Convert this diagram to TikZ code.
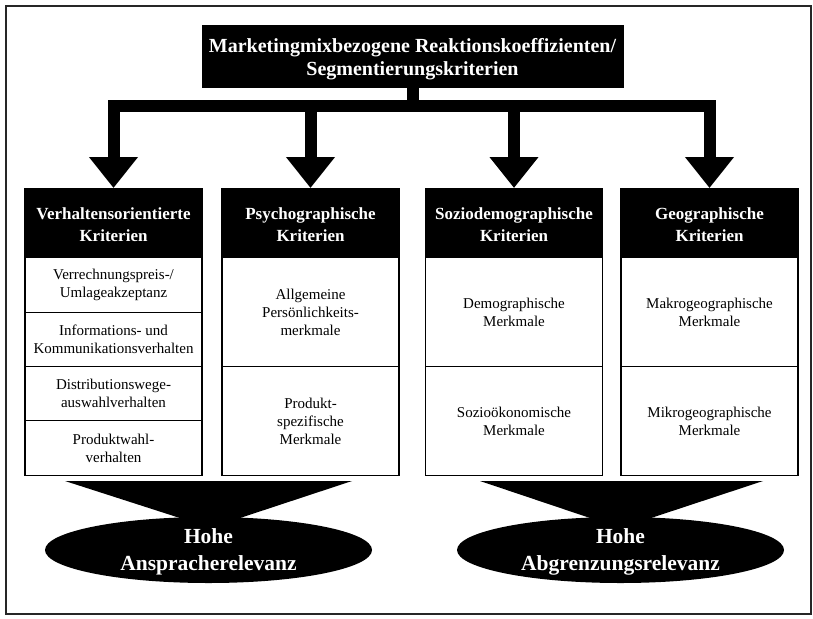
\documentclass[tikz,border=0pt]{standalone}
\usepackage{fontspec}
\setmainfont{Liberation Serif}
\usetikzlibrary{shapes.geometric,arrows.meta}
\begin{document}
\begin{tikzpicture}[x=1pt,y=-1pt,
  titlebox/.style={fill=black,draw=black,text=white,align=center,inner sep=0pt,
    minimum width=421pt,minimum height=62pt,text height=38pt,text depth=0pt,
    font=\fontsize{20}{23}\selectfont\bfseries},
  hdr/.style={fill=black,draw=black,line width=1.2pt,text=white,align=center,inner sep=0pt,
    minimum width=177pt,minimum height=69pt,anchor=north,text height=37pt,text depth=0pt,
    font=\fontsize{17}{22}\selectfont\bfseries},
  cell/.style={draw=black,line width=1.2pt,fill=white,align=center,inner sep=0pt,
    minimum width=177pt,anchor=north,font=\fontsize{15}{18}\selectfont},
  conn/.style={line width=12pt,-{Triangle[length=31pt,width=47pt]}},
  ell/.style={ellipse,fill=black,text=white,align=center,inner sep=0pt,outer sep=0pt,
    minimum width=327pt,minimum height=66pt,text height=40pt,text depth=-2pt,
    font=\fontsize{21.5}{27}\selectfont\bfseries},
  funnel/.style={fill=black},
  frame/.style={draw=black!85,line width=2.5pt}]
\useasboundingbox (0,0) rectangle (813,618);
\fill[white] (0,0) rectangle (813,618);
\draw[frame] (6,6) rectangle (811,614);

% title
\node[titlebox] (t) at (412.5,56) {Marketingmixbezogene Reaktionskoeffizienten/\\Segmentierungskriterien};

% headers
\node[hdr] (h1) at (113.5,188) {Verhaltensorientierte\\Kriterien};
\node[hdr] (h2) at (310.5,188) {Psychographische\\Kriterien};
\node[hdr] (h3) at (514,188) {Soziodemographische\\Kriterien};
\node[hdr] (h4) at (709.5,188) {Geographische\\Kriterien};

% column 1
\node[cell,minimum height=55pt] (a1) at (113.5,257) {Verrechnungspreis-/\\Umlageakzeptanz};
\node[cell,minimum height=54pt] (a2) at (113.5,312) {Informations- und\\Kommunikationsverhalten};
\node[cell,minimum height=54pt] (a3) at (113.5,366) {Distributionswege-\\auswahlverhalten};
\node[cell,minimum height=55pt] (a4) at (113.5,420) {Produktwahl-\\verhalten};

% column 2
\node[cell,minimum height=109pt] (b1) at (310.5,257) {Allgemeine\\Persönlichkeits-\\merkmale};
\node[cell,minimum height=109pt] (b2) at (310.5,366) {Produkt-\\spezifische\\Merkmale};

% column 3
\node[cell,minimum height=109pt] (c1) at (514,257) {Demographische\\Merkmale};
\node[cell,minimum height=109pt] (c2) at (514,366) {Sozioökonomische\\Merkmale};

% column 4
\node[cell,minimum height=109pt] (d1) at (709.5,257) {Makrogeographische\\Merkmale};
\node[cell,minimum height=109pt] (d2) at (709.5,366) {Mikrogeographische\\Merkmale};

% connectors
\coordinate (bar) at (412.5,106);
\foreach \h in {h1,h2,h3,h4}
  \draw[conn] (t.south) -- (t.south |- bar) -| (\h.north);

% bottom funnels and ellipses
\fill[funnel] (65,481) -- (352,481) -- (237,519) -- (183,519) -- cycle;
\node[ell] (e1) at (208.5,550) {Hohe\\Anspracherelevanz};
\fill[funnel] (480,481) -- (763,481) -- (648,519) -- (593,519) -- cycle;
\node[ell] (e2) at (620.5,550) {Hohe\\Abgrenzungsrelevanz};
\end{tikzpicture}
\end{document}
